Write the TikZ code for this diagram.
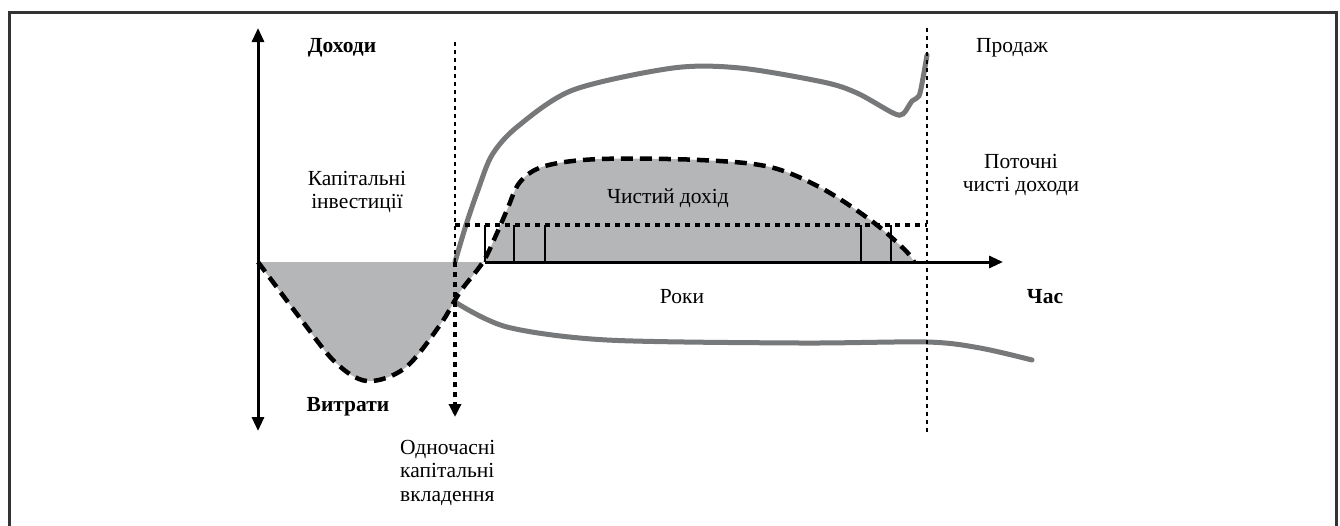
\documentclass[tikz,border=0pt]{standalone}
\usepackage{fontspec}
\setmainfont{Liberation Serif}
\usetikzlibrary{arrows.meta}
\definecolor{fillgrey}{HTML}{B4B6B7}
\definecolor{curvegrey}{HTML}{76787A}
\definecolor{framegrey}{HTML}{333333}
\begin{document}
\begin{tikzpicture}[x=1pt,y=-1pt,
  lbl/.style={font=\fontsize{21.5}{23.5}\selectfont, inner sep=0pt, align=center},
  boldlbl/.style={font=\fontsize{21.5}{23.5}\selectfont\bfseries, inner sep=0pt},
  axis/.style={line width=3pt, -{Triangle[length=14pt,width=12pt]}},
  guide/.style={line width=1.3pt, dash pattern=on 4pt off 4pt},
  flowline/.style={curvegrey, line width=5pt, line cap=round},
  netcurve/.style={line width=4.5pt, dash pattern=on 12pt off 7pt},
  level/.style={line width=4.5pt, dash pattern=on 5pt off 5pt},
  tick/.style={line width=1.5pt}]
    \useasboundingbox (0,0) rectangle (1340,525);
    %Frame
    \draw[framegrey, line width=3pt] (9.5,530) -- (9.5,12.5) -- (1336.5,12.5) -- (1336.5,530);

    %Points
    \coordinate (o) at (258,262);
    \coordinate (ytop) at (258,28);
    \coordinate (ybot) at (258,431);
    \coordinate (xstart) at (485,262);
    \coordinate (xend) at (1003,262);
    \coordinate (start) at (455,262);
    \coordinate (startlow) at (455,417);
    \coordinate (sell) at (927,262);

    %Net cash area
    \fill[fillgrey] plot[smooth, tension=0.55] coordinates {(258,262) (300,318) (335,362) (367,381) (405,368) (440,325) (460,292) (483,262) (497,233) (507,210) (520,182) (545,166) (600,159) (700,160) (770,167) (823,189) (873,222) (905,250) (914,262)} -- cycle;

    %Sales and costs
    \draw[flowline] plot[smooth, tension=0.5] coordinates {(start) (466,225) (478,190) (492,155) (517,127) (573,90) (673,68) (740,68) (823,82) (857,93) (893,113) (903,114) (912,101) (919,96) (923,78) (927,55)};
    \draw[flowline] plot[smooth, tension=0.5] coordinates {(455,302) (507,327) (607,340) (800,343) (927,342) (980,348) (1032,360)};

    %Net cash curve
    \draw[netcurve] plot[smooth, tension=0.55] coordinates {(258,262) (300,318) (335,362) (367,381) (405,368) (440,325) (460,292) (483,262) (497,233) (507,210) (520,182) (545,166) (600,159) (700,160) (770,167) (823,189) (873,222) (905,250) (914,262)};

    %Guides
    \draw[guide] (455,42) -- (start);
    \draw[guide] (927,28) -- (927,432);
    \foreach \tx in {485,514,545,861,891}
        \draw[tick] (\tx,225) -- (\tx,262);
    \draw[level] (455,225) -- (927,225);
    \draw[level, -{Triangle[length=13pt,width=12pt]}] (start) -- (startlow);

    %Axes
    \draw[axis, {Triangle[length=14pt,width=12pt]}-{Triangle[length=14pt,width=12pt]}] (ybot) -- (ytop);
    \draw[axis] (xstart) -- (xend);

    %Labels
    \node[boldlbl] at (342,48) (income) {Доходи};
    \node[lbl] at (357,192) (capinv) {Капітальні\\інвестиції};
    \node[boldlbl] at (348,407) (costs) {Витрати};
    \node[lbl, align=left, anchor=north west] at (400,440) (oneoff) {Одночасні\\капітальні\\вкладення};
    \node[lbl] at (1012,48) (sales) {Продаж};
    \node[lbl] at (1021,175) (current) {Поточні\\чисті доходи};
    \node[lbl] at (668,198) (net) {Чистий дохід};
    \node[lbl] at (682,297) (years) {Роки};
    \node[boldlbl] at (1045,297) (time) {Час};
\end{tikzpicture}
\end{document}
